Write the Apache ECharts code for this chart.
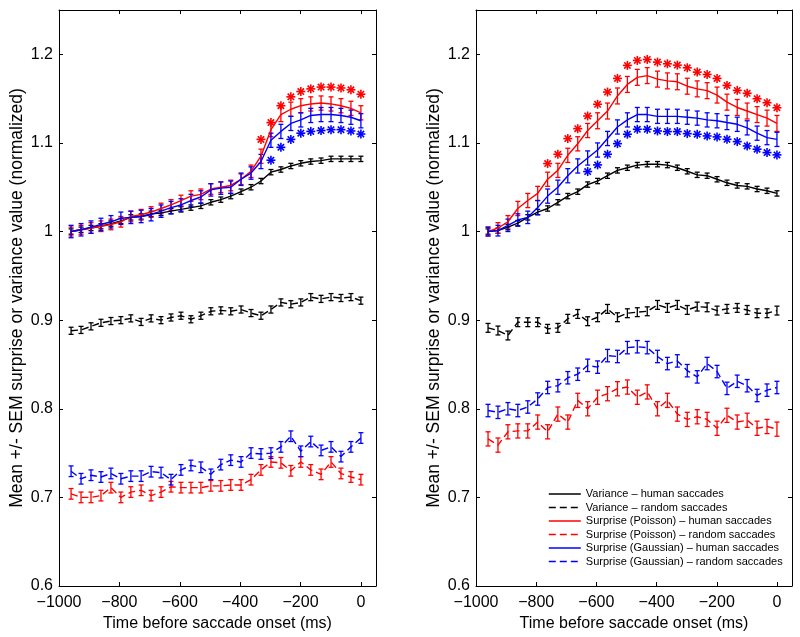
<!DOCTYPE html>
<html>
<head>
<meta charset="utf-8">
<script src="https://cdn.jsdelivr.net/npm/echarts@6/dist/echarts.min.js"></script>
<style>html,body{margin:0;padding:0;background:#fff}#c{width:800px;height:637px}</style>
</head>
<body>
<div id="c"></div>
<script>
// ---------- data ----------
const times = [-960,-927,-894,-861,-828,-795,-762,-728,-695,-662,-629,-596,-563,-530,-497,-464,-431,-397,-364,-331,-298,-265,-232,-199,-166,-132,-99,-66,-33,0];
const seriesNames = ['Variance \u2013 human saccades','Variance \u2013 random saccades','Surprise (Poisson) \u2013 human saccades','Surprise (Poisson) \u2013 random saccades','Surprise (Gaussian) \u2013 human saccades','Surprise (Gaussian) \u2013 random saccades'];
const xTicks = [-1000,-800,-600,-400,-200,0];
const yTicks = [0.6,0.7,0.8,0.9,1,1.1,1.2];

// left panel
const L_varHuman  = [1.000,1.002,1.004,1.006,1.009,1.012,1.016,1.017,1.020,1.021,1.023,1.025,1.027,1.029,1.033,1.036,1.040,1.045,1.050,1.057,1.067,1.070,1.074,1.077,1.079,1.080,1.082,1.082,1.082,1.082];
const L_varHumanErr = [0.003,0.003,0.003,0.003,0.003,0.003,0.003,0.003,0.003,0.003,0.003,0.003,0.003,0.003,0.003,0.003,0.003,0.003,0.003,0.003,0.003,0.003,0.003,0.003,0.003,0.003,0.003,0.003,0.003,0.003];
const L_varRandom = [0.888,0.889,0.893,0.897,0.899,0.900,0.902,0.898,0.902,0.900,0.903,0.905,0.901,0.905,0.910,0.911,0.910,0.912,0.908,0.905,0.912,0.920,0.918,0.920,0.926,0.924,0.926,0.925,0.926,0.922];
const L_varRandomErr = [0.004,0.004,0.004,0.004,0.004,0.004,0.004,0.004,0.004,0.004,0.004,0.004,0.004,0.004,0.004,0.004,0.004,0.004,0.004,0.004,0.004,0.004,0.004,0.004,0.004,0.004,0.004,0.004,0.004,0.004];
const L_poisHuman = [1.000,1.002,1.004,1.006,1.008,1.011,1.017,1.019,1.022,1.026,1.030,1.035,1.040,1.042,1.048,1.050,1.052,1.059,1.068,1.085,1.115,1.132,1.138,1.142,1.144,1.145,1.144,1.142,1.139,1.134];
const L_poisHumanErr = [0.005,0.005,0.006,0.006,0.006,0.006,0.006,0.006,0.006,0.006,0.006,0.006,0.006,0.006,0.006,0.006,0.006,0.006,0.007,0.008,0.008,0.008,0.008,0.008,0.008,0.008,0.008,0.008,0.008,0.008];
const L_poisRandom = [0.704,0.700,0.700,0.702,0.711,0.700,0.706,0.708,0.702,0.706,0.712,0.711,0.711,0.711,0.713,0.713,0.714,0.714,0.720,0.731,0.740,0.739,0.730,0.740,0.731,0.726,0.740,0.727,0.723,0.720];
const L_poisRandomErr = [0.006,0.006,0.006,0.006,0.006,0.006,0.006,0.006,0.006,0.006,0.006,0.006,0.006,0.006,0.006,0.006,0.006,0.006,0.006,0.006,0.006,0.006,0.006,0.006,0.006,0.006,0.006,0.006,0.006,0.006];
const L_gausHuman = [1.000,1.002,1.005,1.008,1.011,1.015,1.016,1.017,1.019,1.023,1.027,1.030,1.035,1.039,1.047,1.049,1.050,1.059,1.066,1.079,1.103,1.113,1.122,1.126,1.131,1.132,1.132,1.131,1.129,1.125];
const L_gausHumanErr = [0.007,0.007,0.007,0.007,0.007,0.007,0.007,0.007,0.007,0.007,0.007,0.007,0.007,0.007,0.007,0.007,0.007,0.007,0.007,0.008,0.008,0.008,0.008,0.008,0.008,0.008,0.008,0.008,0.008,0.008];
const L_gausRandom = [0.7295,0.721,0.725,0.723,0.727,0.721,0.724,0.724,0.729,0.728,0.720,0.731,0.736,0.734,0.726,0.737,0.742,0.740,0.750,0.749,0.750,0.757,0.769,0.752,0.763,0.753,0.757,0.746,0.757,0.767];
const L_gausRandomErr = [0.006,0.006,0.006,0.006,0.006,0.006,0.006,0.006,0.006,0.006,0.006,0.006,0.006,0.006,0.006,0.006,0.006,0.006,0.006,0.006,0.006,0.006,0.006,0.006,0.006,0.006,0.006,0.006,0.006,0.006];
const L_poisStar = [null,null,null,null,null,null,null,null,null,null,null,null,null,null,null,null,null,null,null,1.104,1.123,1.142,1.152,1.158,1.161,1.163,1.163,1.162,1.160,1.155];
const L_gausStar = [null,null,null,null,null,null,null,null,null,null,null,null,null,null,null,null,null,null,null,null,1.0805,1.095,1.104,1.111,1.113,1.114,1.115,1.115,1.1135,1.110];

// right panel
const R_varHuman  = [1.000,1.001,1.005,1.0095,1.016,1.022,1.026,1.033,1.040,1.045,1.053,1.057,1.063,1.069,1.072,1.075,1.076,1.076,1.075,1.072,1.068,1.064,1.063,1.059,1.055,1.052,1.051,1.048,1.046,1.043];
const R_varHumanErr = [0.003,0.003,0.003,0.003,0.003,0.003,0.003,0.003,0.003,0.003,0.003,0.003,0.003,0.003,0.003,0.003,0.003,0.003,0.003,0.003,0.003,0.003,0.003,0.003,0.003,0.003,0.003,0.003,0.003,0.003];
const R_varRandom = [0.8913,0.8883,0.8827,0.8977,0.8977,0.8977,0.8902,0.8913,0.9015,0.907,0.8988,0.9033,0.9127,0.9033,0.9078,0.909,0.910,0.9172,0.9138,0.9172,0.9115,0.9153,0.9145,0.9108,0.9127,0.9138,0.9115,0.9078,0.9078,0.9108];
const R_varRandomErr = [0.005,0.005,0.005,0.005,0.005,0.005,0.005,0.005,0.005,0.005,0.005,0.005,0.005,0.005,0.005,0.005,0.005,0.005,0.005,0.005,0.005,0.005,0.005,0.005,0.005,0.005,0.005,0.005,0.005,0.005];
const R_poisHuman = [1.000,1.004,1.011,1.026,1.035,1.043,1.059,1.069,1.086,1.099,1.114,1.125,1.136,1.153,1.166,1.174,1.176,1.172,1.170,1.169,1.164,1.161,1.159,1.154,1.146,1.140,1.136,1.132,1.128,1.122];
const R_poisHumanErr = [0.005,0.006,0.007,0.008,0.008,0.008,0.008,0.008,0.008,0.008,0.008,0.009,0.009,0.009,0.009,0.009,0.009,0.009,0.009,0.009,0.009,0.009,0.009,0.009,0.009,0.009,0.009,0.009,0.009,0.009];
const R_poisRandom = [0.766,0.759,0.774,0.775,0.775,0.785,0.774,0.794,0.785,0.8095,0.800,0.813,0.817,0.8226,0.8245,0.813,0.819,0.800,0.8095,0.794,0.788,0.791,0.788,0.778,0.7926,0.785,0.787,0.778,0.780,0.777];
const R_poisRandomErr = [0.008,0.008,0.008,0.008,0.008,0.008,0.008,0.008,0.008,0.008,0.008,0.008,0.008,0.008,0.008,0.008,0.008,0.008,0.008,0.008,0.008,0.008,0.008,0.008,0.008,0.008,0.008,0.008,0.008,0.008];
const R_gausHuman = [1.000,1.001,1.007,1.013,1.016,1.027,1.040,1.050,1.063,1.074,1.083,1.092,1.105,1.118,1.126,1.132,1.132,1.130,1.130,1.130,1.129,1.128,1.126,1.125,1.123,1.121,1.117,1.111,1.106,1.104];
const R_gausHumanErr = [0.005,0.006,0.007,0.007,0.007,0.008,0.008,0.008,0.008,0.008,0.008,0.008,0.008,0.008,0.008,0.008,0.008,0.008,0.008,0.008,0.008,0.008,0.008,0.008,0.008,0.008,0.008,0.008,0.008,0.008];
const R_gausRandom = [0.798,0.796,0.800,0.798,0.802,0.811,0.824,0.826,0.835,0.839,0.849,0.847,0.860,0.859,0.869,0.870,0.869,0.859,0.851,0.854,0.843,0.836,0.851,0.842,0.823,0.831,0.826,0.815,0.821,0.824];
const R_gausRandomErr = [0.007,0.007,0.007,0.007,0.007,0.007,0.007,0.007,0.007,0.007,0.007,0.007,0.007,0.007,0.007,0.007,0.007,0.007,0.007,0.007,0.007,0.007,0.007,0.007,0.007,0.007,0.007,0.007,0.007,0.007];
const R_poisStar = [null,null,null,null,null,null,1.0767,1.0872,1.1049,1.1161,1.1304,1.1436,1.1574,1.1728,1.1875,1.1931,1.1942,1.1912,1.1893,1.1878,1.1848,1.1799,1.1773,1.1728,1.1649,1.1593,1.156,1.1499,1.1454,1.1397];
const R_gausStar = [null,null,null,null,null,null,null,null,null,null,1.0677,1.0752,1.0872,1.0992,1.1098,1.1154,1.1154,1.1135,1.1128,1.1128,1.1105,1.1098,1.1079,1.1068,1.1041,1.1015,1.0966,1.0929,1.0891,1.0865];

// ---------- chart ----------
const FONT = '"Liberation Sans", Arial, Helvetica, sans-serif';
const RED = '#ff0000', BLUE = '#0000ff', BLACK = '#000000';
const chart = echarts.init(document.getElementById('c'), null, {renderer: 'canvas'});

function pairs(vals) { return times.map((t, i) => [t, vals[i]]); }
function triples(vals, errs) { return times.map((t, i) => [t, vals[i], errs[i]]); }
function stars(vals) { return times.map((t, i) => [t, vals[i]]).filter(d => d[1] != null); }

function errRender(color) {
  return function (params, api) {
    const x = api.value(0), y = api.value(1), e = api.value(2);
    const top = api.coord([x, y + e]), bot = api.coord([x, y - e]);
    const hw = 2.5;
    const st = {stroke: color, lineWidth: 1.3};
    return {type: 'group', children: [
      {type: 'line', shape: {x1: top[0], y1: top[1], x2: bot[0], y2: bot[1]}, style: st},
      {type: 'line', shape: {x1: top[0] - hw, y1: top[1], x2: top[0] + hw, y2: top[1]}, style: st},
      {type: 'line', shape: {x1: bot[0] - hw, y1: bot[1], x2: bot[0] + hw, y2: bot[1]}, style: st}
    ]};
  };
}
function starRender(color) {
  return function (params, api) {
    const p = api.coord([api.value(0), api.value(1)]);
    const r = 4.5, d = r * 0.707;
    const st = {stroke: color, lineWidth: 1.6};
    return {type: 'group', children: [
      {type: 'line', shape: {x1: p[0] - r, y1: p[1], x2: p[0] + r, y2: p[1]}, style: st},
      {type: 'line', shape: {x1: p[0], y1: p[1] - r, x2: p[0], y2: p[1] + r}, style: st},
      {type: 'line', shape: {x1: p[0] - d, y1: p[1] - d, x2: p[0] + d, y2: p[1] + d}, style: st},
      {type: 'line', shape: {x1: p[0] - d, y1: p[1] + d, x2: p[0] + d, y2: p[1] - d}, style: st}
    ]};
  };
}

const grids = [
  {left: 59, top: 10, width: 317, height: 576},
  {left: 476, top: 10, width: 316, height: 576}
];

const xAxes = [], yAxes = [];
grids.forEach((g, gi) => {
  const axLine = {show: true, onZero: false, lineStyle: {color: BLACK, width: 1}};
  const tick = {show: true, inside: true, length: 4, lineStyle: {color: BLACK, width: 1}};
  xAxes.push({
    type: 'value', gridIndex: gi, min: -1000, max: 50, interval: 200, position: 'bottom',
    axisLine: axLine, axisTick: tick, splitLine: {show: false},
    axisLabel: {color: BLACK, fontSize: 16, fontFamily: FONT, margin: 9,
      formatter: v => xTicks.indexOf(v) >= 0 ? String(v).replace('-', '\u2212') : ''},
    name: 'Time before saccade onset (ms)', nameLocation: 'middle', nameGap: 23,
    nameTextStyle: {color: BLACK, fontSize: 16, fontFamily: FONT}
  });
  xAxes.push({
    type: 'value', gridIndex: gi, min: -1000, max: 50, interval: 200, position: 'top',
    axisLine: axLine, axisTick: tick, splitLine: {show: false}, axisLabel: {show: false}
  });
  yAxes.push({
    type: 'value', gridIndex: gi, min: 0.6, max: 1.25, interval: 0.1, position: 'left',
    axisLine: axLine, axisTick: tick, splitLine: {show: false},
    axisLabel: {color: BLACK, fontSize: 16, fontFamily: FONT, margin: 6,
      formatter: v => { const r = Math.round(v * 10) / 10; return (Math.abs(v - r) < 1e-6 && yTicks.indexOf(r) >= 0) ? String(r) : ''; }},
    name: 'Mean +/- SEM surprise or variance value (normalized)', nameLocation: 'middle', nameGap: 33,
    nameRotate: 90,
    nameTextStyle: {color: BLACK, fontSize: 17.5, fontFamily: FONT}
  });
  yAxes.push({
    type: 'value', gridIndex: gi, min: 0.6, max: 1.25, interval: 0.1, position: 'right',
    axisLine: axLine, axisTick: tick, splitLine: {show: false}, axisLabel: {show: false}
  });
});

const panels = [
  {xi: 0, yi: 0, vh: L_varHuman, vhe: L_varHumanErr, vr: L_varRandom, vre: L_varRandomErr,
   ph: L_poisHuman, phe: L_poisHumanErr, pr: L_poisRandom, pre: L_poisRandomErr,
   gh: L_gausHuman, ghe: L_gausHumanErr, gr: L_gausRandom, gre: L_gausRandomErr,
   ps: L_poisStar, gs: L_gausStar},
  {xi: 2, yi: 2, vh: R_varHuman, vhe: R_varHumanErr, vr: R_varRandom, vre: R_varRandomErr,
   ph: R_poisHuman, phe: R_poisHumanErr, pr: R_poisRandom, pre: R_poisRandomErr,
   gh: R_gausHuman, ghe: R_gausHumanErr, gr: R_gausRandom, gre: R_gausRandomErr,
   ps: R_poisStar, gs: R_gausStar}
];

const series = [];
const DASH = [7, 4];
panels.forEach(p => {
  const defs = [
    [seriesNames[0], p.vh, p.vhe, BLACK, 'solid'],
    [seriesNames[1], p.vr, p.vre, BLACK, DASH],
    [seriesNames[2], p.ph, p.phe, RED, 'solid'],
    [seriesNames[3], p.pr, p.pre, RED, DASH],
    [seriesNames[4], p.gh, p.ghe, BLUE, 'solid'],
    [seriesNames[5], p.gr, p.gre, BLUE, DASH]
  ];
  defs.forEach(d => {
    series.push({
      name: d[0], type: 'line', xAxisIndex: p.xi, yAxisIndex: p.yi, data: pairs(d[1]),
      symbol: 'none', showSymbol: false, color: d[3],
      lineStyle: {color: d[3], width: 1.4, type: d[4]}, silent: true
    });
    series.push({
      type: 'custom', xAxisIndex: p.xi, yAxisIndex: p.yi, data: triples(d[1], d[2]),
      renderItem: errRender(d[3]), encode: {x: 0, y: 1}, silent: true
    });
  });
  series.push({type: 'custom', xAxisIndex: p.xi, yAxisIndex: p.yi, data: stars(p.ps),
    renderItem: starRender(RED), encode: {x: 0, y: 1}, silent: true});
  series.push({type: 'custom', xAxisIndex: p.xi, yAxisIndex: p.yi, data: stars(p.gs),
    renderItem: starRender(BLUE), encode: {x: 0, y: 1}, silent: true});
});

chart.setOption({
  animation: false,
  backgroundColor: '#ffffff',
  grid: grids,
  xAxis: xAxes,
  yAxis: yAxes,
  legend: {
    data: seriesNames, orient: 'vertical', left: 548, top: 488, padding: 0,
    itemWidth: 32, itemHeight: 12, itemGap: 1.5, selectedMode: false,
    itemStyle: {opacity: 0},
    lineStyle: {width: 1.6},
    textStyle: {color: BLACK, fontSize: 11, fontFamily: FONT, lineHeight: 12}
  },
  series: series
});
</script>
</body>
</html>
